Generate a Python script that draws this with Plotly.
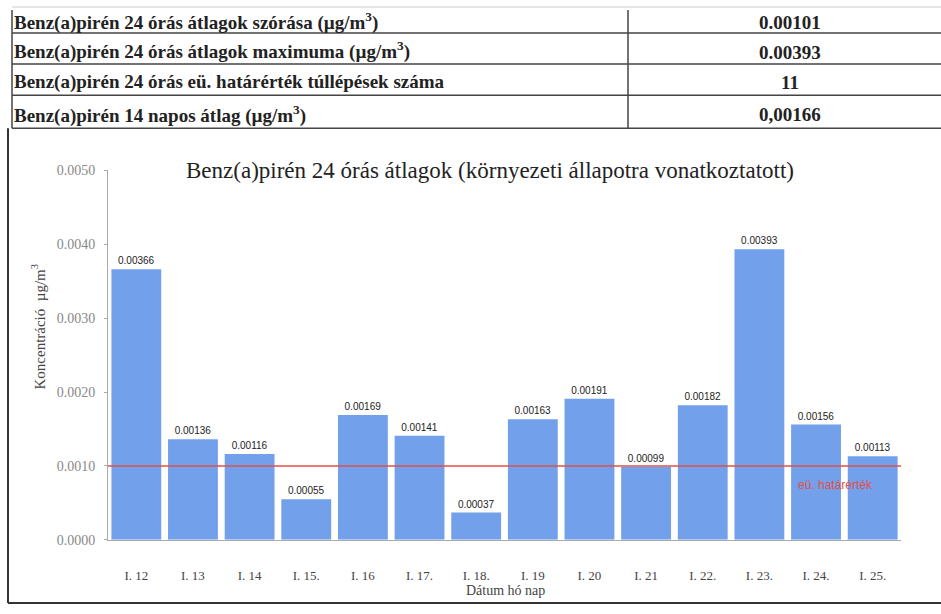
import plotly.graph_objects as go

# ---- data ----
dates = ["I. 12", "I. 13", "I. 14", "I. 15.", "I. 16", "I. 17.", "I. 18.",
         "I. 19", "I. 20", "I. 21", "I. 22.", "I. 23.", "I. 24.", "I. 25."]
values = [0.00366, 0.00136, 0.00116, 0.00055, 0.00169, 0.00141, 0.00037,
          0.00163, 0.00191, 0.00099, 0.00182, 0.00393, 0.00156, 0.00113]
limit_value = 0.001
limit_label = "eü. határérték"

table_labels = [
    "Benz(a)pirén 24 órás átlagok szórása (µg/m<sup>3</sup>)",
    "Benz(a)pirén 24 órás átlagok maximuma (µg/m<sup>3</sup>)",
    "Benz(a)pirén 24 órás eü. határérték túllépések száma",
    "Benz(a)pirén 14 napos átlag (µg/m<sup>3</sup>)",
]
table_values = ["0.00101", "0.00393", "11", "0,00166"]

y_ticks = [0, 0.001, 0.002, 0.003, 0.004, 0.005]

W, H = 941, 614


def px(x):
    return x / W


def py(y):
    # target pixel row -> paper coordinate (compensates for observed render offset)
    ys = (y - 9) / 0.974
    return 1 - ys / H


fig = go.Figure()
fig.add_trace(go.Bar(
    x=dates, y=values,
    marker=dict(color="#72a0ea", line=dict(width=0)),
    text=[f"{v:.5f}" for v in values],
    textposition="outside",
    textfont=dict(family="Arial, Liberation Sans", size=10, color="#222"),
    cliponaxis=False,
))

shapes = []
annotations = []

# table borders
row_lines = [9, 35, 66, 97, 130]
for i, yl in enumerate(row_lines):
    shapes.append(dict(type="line", xref="paper", yref="paper",
                       x0=px(12), x1=1, y0=py(yl), y1=py(yl),
                       line=dict(color="#444" if i else "#ddd", width=1.5)))
shapes.append(dict(type="line", xref="paper", yref="paper",
                   x0=px(12), x1=px(12), y0=py(12), y1=py(130),
                   line=dict(color="#444", width=1.5)))
shapes.append(dict(type="line", xref="paper", yref="paper",
                   x0=px(628), x1=px(628), y0=py(12), y1=py(130),
                   line=dict(color="#444", width=1.5)))
# chart box
shapes.append(dict(type="line", xref="paper", yref="paper",
                   x0=px(8), x1=px(8), y0=py(130), y1=py(604),
                   line=dict(color="#333", width=2)))
shapes.append(dict(type="line", xref="paper", yref="paper",
                   x0=px(8), x1=1, y0=py(604), y1=py(604),
                   line=dict(color="#333", width=2)))
# limit line
shapes.append(dict(type="line", xref="x domain", yref="y",
                   x0=0, x1=1, y0=limit_value, y1=limit_value,
                   line=dict(color="#e0504a", width=1.5)))

label_y = [21.5, 50.5, 83.5, 114]
value_y = [24, 54, 84, 116]
for i, (lab, val) in enumerate(zip(table_labels, table_values)):
    shift = -2 if "<sup>" in lab else 0
    annotations.append(dict(xref="paper", yref="paper", x=px(12), y=py(label_y[i]),
                            xanchor="left", yanchor="middle", showarrow=False,
                            yshift=shift,
                            text=f"<b>{lab}</b>",
                            font=dict(family="Liberation Serif", size=19, color="#222")))
    annotations.append(dict(xref="paper", yref="paper", x=px(790), y=py(value_y[i]),
                            xanchor="center", yanchor="middle", showarrow=False,
                            text=f"<b>{val}</b>",
                            font=dict(family="Liberation Serif", size=19, color="#222")))

annotations.append(dict(xref="paper", yref="paper", x=px(490), y=py(172),
                        xanchor="center", yanchor="middle", showarrow=False,
                        text="Benz(a)pirén 24 órás átlagok (környezeti állapotra vonatkoztatott)",
                        font=dict(family="Liberation Serif", size=23, color="#222")))
annotations.append(dict(xref="paper", yref="paper", x=px(38), y=py(328),
                        xanchor="center", yanchor="middle", showarrow=False,
                        textangle=-90,
                        text="Koncentráció  µg/m<sup>3</sup>",
                        font=dict(family="Liberation Serif", size=15, color="#444")))
annotations.append(dict(xref="paper", yref="paper", x=px(505), y=py(592),
                        xanchor="center", yanchor="middle", showarrow=False,
                        text="Dátum hó nap",
                        font=dict(family="Liberation Serif", size=14, color="#444")))
annotations.append(dict(xref="x", yref="y", x=dates[-2], y=limit_value,
                        xanchor="left", yanchor="top", yshift=-10, xshift=-20,
                        showarrow=False, text=limit_label,
                        font=dict(family="Arial, Liberation Sans", size=12, color="#e0504a")))

fig.update_layout(
    width=W, height=H,
    margin=dict(l=0, r=0, t=0, b=0),
    paper_bgcolor="white", plot_bgcolor="white",
    showlegend=False,
    bargap=0.12,
    shapes=shapes,
    annotations=annotations,
    xaxis=dict(domain=[px(108), px(901)], showgrid=False,
               showline=True, linecolor="#aaa", linewidth=1,
               tickfont=dict(family="Liberation Serif", size=13, color="#444"),
               ticks="", ticklabelstandoff=24),
    yaxis=dict(domain=[py(541), py(172)], range=[0, 0.005],
               tickvals=y_ticks, tickformat=".4f",
               showgrid=False, zeroline=False,
               showline=True, linecolor="#aaa", linewidth=1,
               ticks="outside", ticklen=3, tickcolor="#aaa",
               ticklabelstandoff=6,
               tickfont=dict(family="Liberation Serif", size=14, color="#888")),
)

fig.write_html("out.html", config={"displayModeBar": False},
               post_script="document.body.style.margin='0';")
